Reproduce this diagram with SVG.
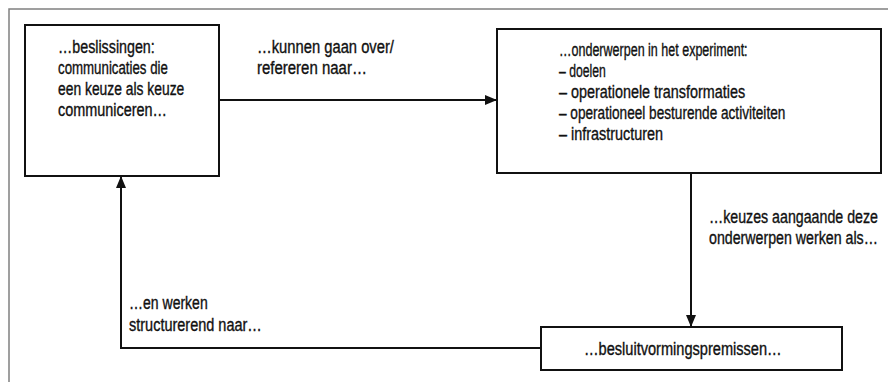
<svg xmlns="http://www.w3.org/2000/svg" width="888" height="382" viewBox="0 0 888 382">
<style>
text{font-family:"Liberation Sans",Arial,sans-serif;font-size:17.5px;fill:#111;stroke:#111;stroke-width:0.35}
.box{fill:#fff;stroke:#111;stroke-width:2}
.con{fill:none;stroke:#111;stroke-width:2}
</style>
<defs>
<marker id="ah" markerWidth="12" markerHeight="10" refX="12" refY="5" orient="auto" markerUnits="userSpaceOnUse">
<path d="M0,0 L12,5 L0,10 Z" fill="#111"/>
</marker>
</defs>
<rect x="0" y="0" width="888" height="382" fill="#fff"/>
<path id="frame" d="M888,9 H9 V382" fill="none" stroke="#808080" stroke-width="1.5"/>
<g id="connectors">
<line class="con" x1="219" y1="100" x2="497" y2="100" marker-end="url(#ah)"/>
<line class="con" x1="691" y1="173" x2="691" y2="327" marker-end="url(#ah)"/>
<polyline class="con" points="541,348 121,348 121,176" marker-end="url(#ah)"/>
<text transform="translate(257,53) scale(0.82,1)" textLength="167" lengthAdjust="spacingAndGlyphs">…kunnen gaan over/</text>
<text transform="translate(257,74) scale(0.82,1)" textLength="134" lengthAdjust="spacingAndGlyphs">refereren naar…</text>
<text transform="translate(709,223) scale(0.82,1)" textLength="206" lengthAdjust="spacingAndGlyphs">…keuzes aangaande deze</text>
<text transform="translate(709,244) scale(0.82,1)" textLength="206" lengthAdjust="spacingAndGlyphs">onderwerpen werken als…</text>
<text transform="translate(129,309) scale(0.82,1)" textLength="96" lengthAdjust="spacingAndGlyphs">…en werken</text>
<text transform="translate(129,331) scale(0.82,1)" textLength="162" lengthAdjust="spacingAndGlyphs">structurerend naar…</text>
</g>
<g id="beslissingen">
<rect class="box" x="25" y="25" width="194" height="151"/>
<text transform="translate(58,53) scale(0.82,1)" textLength="118" lengthAdjust="spacingAndGlyphs">…beslissingen:</text>
<text transform="translate(58,74) scale(0.82,1)" textLength="134" lengthAdjust="spacingAndGlyphs">communicaties die</text>
<text transform="translate(58,95) scale(0.82,1)" textLength="154" lengthAdjust="spacingAndGlyphs">een keuze als keuze</text>
<text transform="translate(58,116) scale(0.82,1)" textLength="133" lengthAdjust="spacingAndGlyphs">communiceren…</text>
</g>
<g id="onderwerpen">
<rect class="box" x="497" y="29" width="384" height="144"/>
<text transform="translate(559,56) scale(0.82,1)" textLength="230" lengthAdjust="spacingAndGlyphs">…onderwerpen in het experiment:</text>
<text transform="translate(559,77) scale(0.82,1)" textLength="57" lengthAdjust="spacingAndGlyphs">– doelen</text>
<text transform="translate(559,98) scale(0.82,1)" textLength="227" lengthAdjust="spacingAndGlyphs">– operationele transformaties</text>
<text transform="translate(559,119) scale(0.82,1)" textLength="276" lengthAdjust="spacingAndGlyphs">– operationeel besturende activiteiten</text>
<text transform="translate(559,140) scale(0.82,1)" textLength="127" lengthAdjust="spacingAndGlyphs">– infrastructuren</text>
</g>
<g id="premissen">
<rect class="box" x="541" y="327" width="301" height="43"/>
<text transform="translate(584,355) scale(0.82,1)" textLength="241" lengthAdjust="spacingAndGlyphs">…besluitvormingspremissen…</text>
</g>
</svg>
